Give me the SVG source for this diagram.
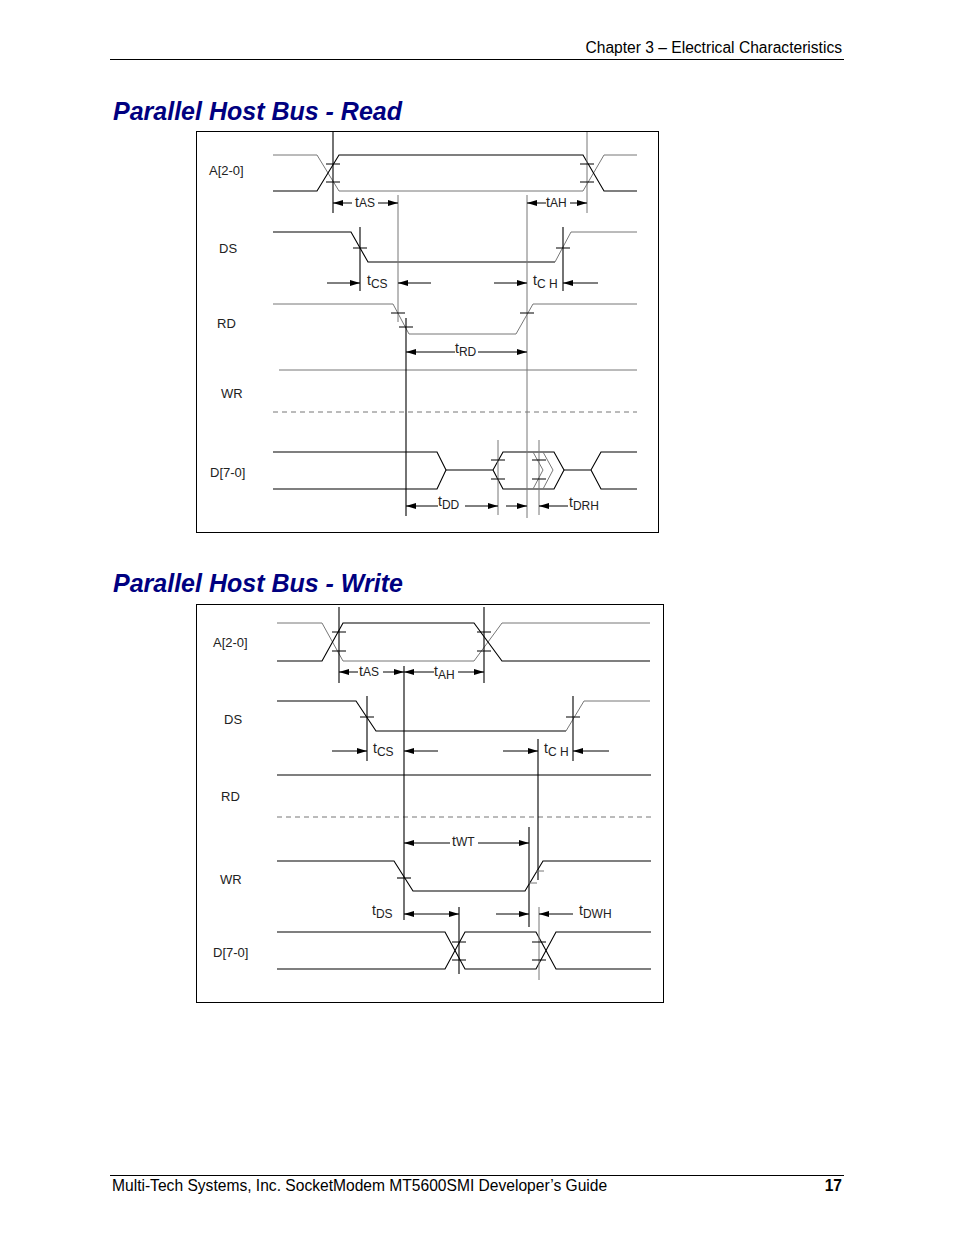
<svg xmlns="http://www.w3.org/2000/svg" width="954" height="1235" viewBox="0 0 954 1235">
<defs>
<marker id="ah" markerUnits="userSpaceOnUse" markerWidth="11" markerHeight="7" refX="10" refY="3.5" orient="auto"><path d="M0,0.5 L10,3.5 L0,6.5 z" fill="#000"/></marker>
<style>
.s{fill:none;stroke:#000;stroke-width:1.1}
.g{fill:none;stroke:#777;stroke-width:1}
.d{fill:none;stroke:#777;stroke-width:1;stroke-dasharray:5,4}
.a{fill:none;stroke:#000;stroke-width:1;marker-end:url(#ah)}
.lb{font-family:"Liberation Sans",Arial,sans-serif;font-size:13px;fill:#222}
.t{font-family:"Liberation Sans",Arial,sans-serif;font-size:14px;fill:#222}
.sb{font-size:12px}
.h{font-family:"Liberation Sans",Arial,sans-serif;font-size:15.6px;fill:#000}
.ti{font-family:"Liberation Sans",Arial,sans-serif;font-size:25px;font-weight:bold;font-style:italic;fill:#000080}
</style>
</defs>
<rect width="954" height="1235" fill="#fff"/>
<text class="h" x="842" y="53" text-anchor="end">Chapter 3 – Electrical Characteristics</text>
<line x1="110" y1="59.5" x2="844" y2="59.5" stroke="#000" stroke-width="1.2"/>
<text class="ti" x="113" y="120">Parallel Host Bus - Read</text>
<text class="ti" x="113" y="592">Parallel Host Bus - Write</text>
<line x1="110" y1="1175.5" x2="844" y2="1175.5" stroke="#000" stroke-width="1"/>
<text class="h" x="112" y="1191">Multi-Tech Systems, Inc. SocketModem MT5600SMI Developer’s Guide</text>
<text class="h" x="842" y="1191" text-anchor="end" font-weight="bold" font-size="13">17</text>

<g id="read">
<rect x="196.5" y="131.5" width="462" height="401" fill="none" stroke="#000" stroke-width="1"/>
<g id="r-labels">
<text class="lb" x="209" y="175">A[2-0]</text>
<text class="lb" x="219" y="253">DS</text>
<text class="lb" x="217" y="328">RD</text>
<text class="lb" x="221" y="398">WR</text>
<text class="lb" x="210" y="477">D[7-0]</text>
</g>
<g id="r-signals">
<path class="g" d="M273,155 H317 L339,191 H583 L604,155 H637"/>
<path class="s" d="M273,191 H317 L339,155 H583 L604,191 H637"/>
<path class="s" d="M273,232 H351 L368,262 H555"/>
<path class="g" d="M555,262 L571,232 H637"/>
<path class="g" d="M273,304 H393 L409,334 H516 L533,304 H637"/>
<line class="g" x1="279" y1="370" x2="637" y2="370"/>
<line class="d" x1="273" y1="412" x2="637" y2="412"/>
<path class="s" d="M273,452 H437 L446,470 L437,489 H273"/>
<path class="s" d="M446,470 H493 L503,452 H554 L564,470 L554,489 H503 L493,470"/>
<path class="g" d="M543,452 L553,470 L543,489 M533,452 L543,470 L533,489"/>
<path class="s" d="M564,470 H591 L601,452 H637 M591,470 L601,489 H637"/>
</g>
<g id="r-markers">
<line class="s" x1="333" y1="132" x2="333" y2="213"/>
<line class="g" x1="587" y1="132" x2="587" y2="213"/>
<path class="s" d="M326,164H340M326,182H340M580,164H594M580,182H594"/>
<line class="s" x1="360" y1="227" x2="360" y2="291"/>
<line class="s" x1="563" y1="227" x2="563" y2="291"/>
<path class="s" d="M353,248H367M556,248H570"/>
<line class="g" x1="398" y1="195" x2="398" y2="322"/>
<line class="g" x1="527" y1="195" x2="527" y2="518"/>
<line class="s" x1="406" y1="318" x2="406" y2="516"/>
<path class="s" d="M391,313H405M399,327H413M520,313H534"/>
<line class="g" x1="498" y1="440" x2="498" y2="515"/>
<line class="g" x1="539" y1="440" x2="539" y2="515"/>
<path class="s" d="M491,460H505M491,479H505M532,460H546M532,479H546"/>
</g>
<g id="r-dims">
<line class="a" x1="352" y1="203" x2="333" y2="203"/>
<line class="a" x1="378" y1="203" x2="398" y2="203"/>
<text class="t" x="355" y="207">t<tspan class="sb" dy="0">AS</tspan></text>
<line class="a" x1="546" y1="203" x2="527" y2="203"/>
<line class="a" x1="570" y1="203" x2="587" y2="203"/>
<text class="t" x="546" y="207">t<tspan class="sb">AH</tspan></text>
<line class="a" x1="327" y1="283" x2="360" y2="283"/>
<line class="a" x1="431" y1="283" x2="398" y2="283"/>
<text class="t" x="367" y="285">t<tspan class="sb" dy="3">CS</tspan></text>
<line class="a" x1="494" y1="283" x2="527" y2="283"/>
<line class="a" x1="598" y1="283" x2="563" y2="283"/>
<text class="t" x="533" y="285">t<tspan class="sb" dy="3">C H</tspan></text>
<line class="a" x1="455" y1="352" x2="406" y2="352"/>
<line class="a" x1="478" y1="352" x2="527" y2="352"/>
<text class="t" x="455" y="353">t<tspan class="sb" dy="3">RD</tspan></text>
<line class="a" x1="438" y1="506" x2="406" y2="506"/>
<line class="a" x1="465" y1="506" x2="498" y2="506"/>
<text class="t" x="438" y="506">t<tspan class="sb" dy="3">DD</tspan></text>
<line class="a" x1="506" y1="506" x2="527" y2="506"/>
<line class="a" x1="568" y1="506" x2="539" y2="506"/>
<text class="t" x="569" y="507">t<tspan class="sb" dy="3">DRH</tspan></text>
</g>
</g>

<g id="write">
<rect x="196.5" y="604.5" width="467" height="398" fill="none" stroke="#000" stroke-width="1"/>
<g id="w-labels">
<text class="lb" x="213" y="647">A[2-0]</text>
<text class="lb" x="224" y="724">DS</text>
<text class="lb" x="221" y="801">RD</text>
<text class="lb" x="220" y="884">WR</text>
<text class="lb" x="213" y="957">D[7-0]</text>
</g>
<g id="w-signals">
<path class="g" d="M277,623 H322 L343,661 H474 L502,623 H650"/>
<path class="s" d="M277,661 H322 L343,623 H474 L502,661 H650"/>
<path class="s" d="M277,701 H356 L376,731 H566"/>
<path class="g" d="M566,731 L584,701 H650"/>
<line class="s" x1="277" y1="775" x2="651" y2="775"/>
<line class="d" x1="277" y1="817" x2="652" y2="817"/>
<path class="s" d="M277,861 H394 L413,891 H525 L543,861 H651"/>
<path class="s" d="M277,932 H445 L465,969 H536 L556,932 H651"/>
<path class="s" d="M277,969 H445 L465,932 H536 L556,969 H651"/>
</g>
<g id="w-markers">
<line class="s" x1="339" y1="607" x2="339" y2="683"/>
<line class="s" x1="484" y1="607" x2="484" y2="683"/>
<path class="s" d="M332,632H346M332,651H346M477,632H491M477,651H491"/>
<line class="s" x1="404" y1="666" x2="404" y2="920"/>
<line class="s" x1="367" y1="696" x2="367" y2="761"/>
<line class="s" x1="573" y1="696" x2="573" y2="761"/>
<path class="s" d="M360,717H374M566,717H580"/>
<line class="s" x1="538" y1="739" x2="538" y2="880"/>
<line class="s" x1="529" y1="827" x2="529" y2="927"/>
<path class="s" d="M397,878H411"/>
<path class="g" d="M536,871H544M529,883H537"/>
<line class="s" x1="459" y1="907" x2="459" y2="974"/>
<line class="g" x1="539" y1="907" x2="539" y2="980"/>
<path class="s" d="M452,942H466M452,960H466M532,942H546M532,960H546"/>
</g>
<g id="w-dims">
<line class="a" x1="358" y1="672" x2="339" y2="672"/>
<line class="a" x1="383" y1="672" x2="404" y2="672"/>
<text class="t" x="359" y="676">t<tspan class="sb">AS</tspan></text>
<line class="a" x1="434" y1="672" x2="404" y2="672"/>
<line class="a" x1="458" y1="672" x2="484" y2="672"/>
<text class="t" x="434" y="676">t<tspan class="sb" dy="3">AH</tspan></text>
<line class="a" x1="332" y1="751" x2="367" y2="751"/>
<line class="a" x1="438" y1="751" x2="404" y2="751"/>
<text class="t" x="373" y="753">t<tspan class="sb" dy="3">CS</tspan></text>
<line class="a" x1="503" y1="751" x2="538" y2="751"/>
<line class="a" x1="609" y1="751" x2="573" y2="751"/>
<text class="t" x="544" y="753">t<tspan class="sb" dy="3">C H</tspan></text>
<line class="a" x1="450" y1="843" x2="404" y2="843"/>
<line class="a" x1="478" y1="843" x2="529" y2="843"/>
<text class="t" x="452" y="846" font-size="12">t<tspan class="sb">WT</tspan></text>
<line class="a" x1="432" y1="914" x2="404" y2="914"/>
<line class="a" x1="432" y1="914" x2="459" y2="914"/>
<text class="t" x="372" y="915">t<tspan class="sb" dy="3">DS</tspan></text>
<line class="a" x1="496" y1="914" x2="529" y2="914"/>
<line class="a" x1="573" y1="914" x2="539" y2="914"/>
<text class="t" x="579" y="915">t<tspan class="sb" dy="3">DWH</tspan></text>
</g>
</g>
</svg>
